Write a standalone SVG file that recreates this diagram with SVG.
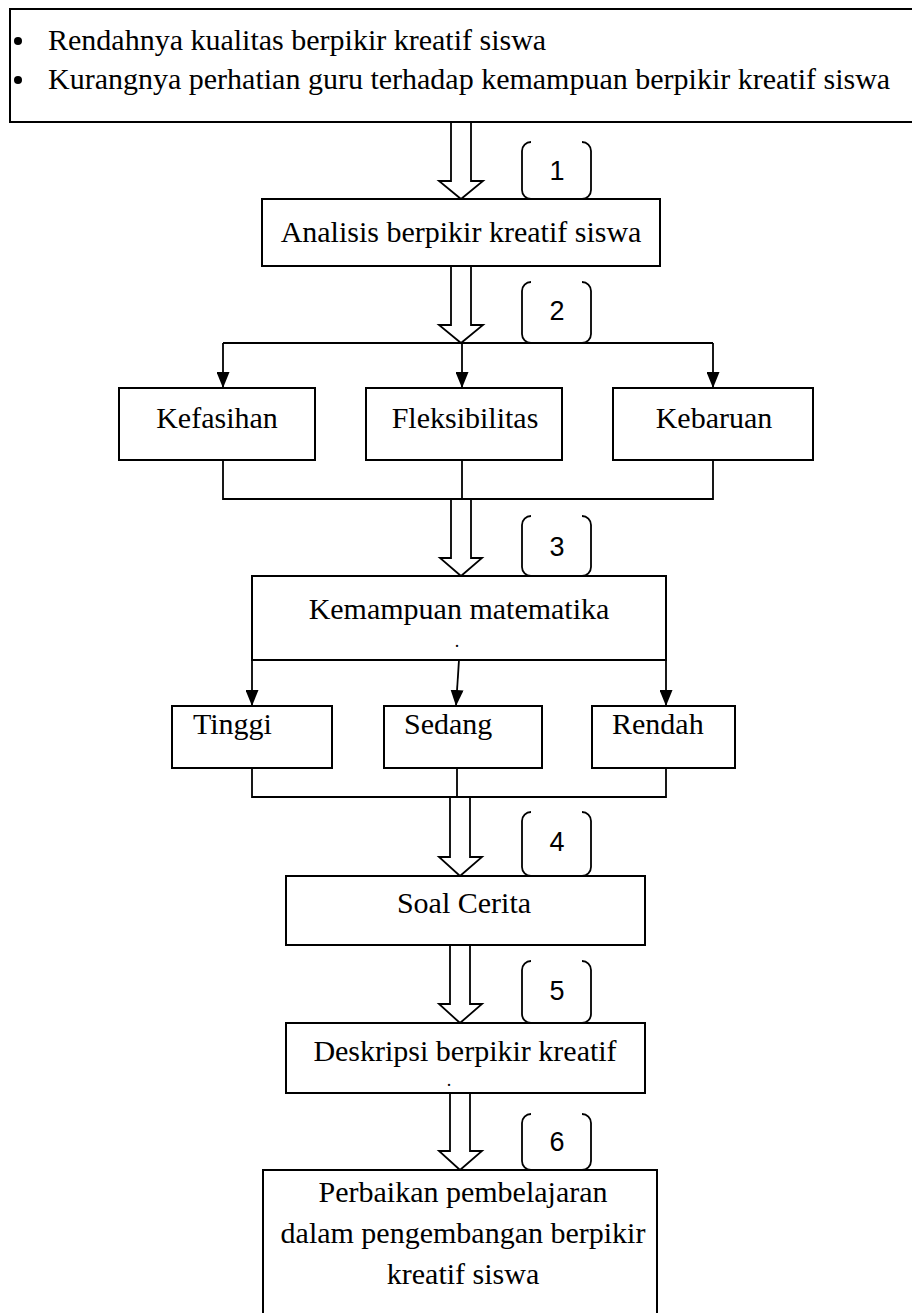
<svg xmlns="http://www.w3.org/2000/svg" width="912" height="1313" viewBox="0 0 912 1313">
<defs>
<marker id="tri" viewBox="0 0 16 13" refX="16" refY="6.5" markerWidth="16" markerHeight="13" markerUnits="userSpaceOnUse" orient="auto">
<path d="M0,0 L16,6.5 L0,13 Z" fill="#000"/>
</marker>
<style>
.box{fill:#fff;stroke:#000;stroke-width:2}
.t{font-family:"Liberation Serif","Times New Roman",serif;font-size:30px;fill:#000}
.d{font-family:"Liberation Serif","Times New Roman",serif;font-size:18px;fill:#000;text-anchor:middle}
.n{font-family:"Liberation Sans",Arial,sans-serif;font-size:27px;fill:#000;text-anchor:middle}
.c{text-anchor:middle}
.blk{fill:#fff;stroke:#000;stroke-width:1.8}
.ln{fill:none;stroke:#000;stroke-width:1.8}
.br{fill:none;stroke:#000;stroke-width:1.8}
</style>
</defs>
<rect width="912" height="1313" fill="#fff"/>

<g id="problems">
<path class="ln" d="M915,9 H10 V122 H915" style="stroke-width:2"/>
<circle cx="18" cy="41" r="4"/>
<circle cx="18" cy="80" r="4"/>
<text class="t" x="48" y="50">Rendahnya kualitas berpikir kreatif siswa</text>
<text class="t" x="48" y="89">Kurangnya perhatian guru terhadap kemampuan berpikir kreatif siswa</text>
</g>

<g id="connectors">
<polygon class="blk" points="451,122 471,122 471,181 483,181 461,199 439,181 451,181"/>
<polygon class="blk" points="451,266 471,266 471,325 483,325 461,343 439,325 451,325"/>
<path class="ln" d="M223,343 H713"/>
<path class="ln" d="M223,343 V388" marker-end="url(#tri)"/>
<path class="ln" d="M462,343 V388" marker-end="url(#tri)"/>
<path class="ln" d="M713,343 V388" marker-end="url(#tri)"/>
<path class="ln" d="M223,460 V499 H713 V460 M462,460 V499"/>
<polygon class="blk" points="451,499 471,499 471,558 482,558 461,576 440,558 451,558"/>
<path class="ln" d="M252,660 V706" marker-end="url(#tri)"/>
<path class="ln" d="M459,660 L456,706" marker-end="url(#tri)"/>
<path class="ln" d="M666,660 V706" marker-end="url(#tri)"/>
<path class="ln" d="M252,768 V797 H666 V768 M457,768 V797"/>
<polygon class="blk" points="450,797 470,797 470,857 482,857 460,876 439,857 450,857"/>
<polygon class="blk" points="450,945 470,945 470,1004 482,1004 460,1023 439,1004 450,1004"/>
<polygon class="blk" points="450,1093 470,1093 470,1151 482,1151 460,1170 439,1151 450,1151"/>
</g>

<g id="badge1">
<path class="br" d="M531,142 A9,9 0 0 0 522,151 V190 A9,9 0 0 0 531,199 M582,142 A9,9 0 0 1 591,151 V190 A9,9 0 0 1 582,199"/>
<text class="n" x="557" y="180">1</text>
</g>
<g id="badge2">
<path class="br" d="M531,282 A9,9 0 0 0 522,291 V334 A9,9 0 0 0 531,343 M582,282 A9,9 0 0 1 591,291 V334 A9,9 0 0 1 582,343"/>
<text class="n" x="557" y="320">2</text>
</g>
<g id="badge3">
<path class="br" d="M531,516 A9,9 0 0 0 522,525 V567 A9,9 0 0 0 531,576 M582,516 A9,9 0 0 1 591,525 V567 A9,9 0 0 1 582,576"/>
<text class="n" x="557" y="556">3</text>
</g>
<g id="badge4">
<path class="br" d="M531,812 A9,9 0 0 0 522,821 V867 A9,9 0 0 0 531,876 M582,812 A9,9 0 0 1 591,821 V867 A9,9 0 0 1 582,876"/>
<text class="n" x="557" y="851">4</text>
</g>
<g id="badge5">
<path class="br" d="M531,961 A9,9 0 0 0 522,970 V1014 A9,9 0 0 0 531,1023 M582,961 A9,9 0 0 1 591,970 V1014 A9,9 0 0 1 582,1023"/>
<text class="n" x="557" y="1000">5</text>
</g>
<g id="badge6">
<path class="br" d="M531,1114 A9,9 0 0 0 522,1123 V1161 A9,9 0 0 0 531,1170 M582,1114 A9,9 0 0 1 591,1123 V1161 A9,9 0 0 1 582,1170"/>
<text class="n" x="557" y="1151">6</text>
</g>

<g id="analisis">
<rect class="box" x="262" y="199" width="398" height="67"/>
<text class="t c" x="461" y="242">Analisis berpikir kreatif siswa</text>
</g>
<g id="kefasihan">
<rect class="box" x="119" y="388" width="196" height="72"/>
<text class="t c" x="217" y="428">Kefasihan</text>
</g>
<g id="fleksibilitas">
<rect class="box" x="366" y="388" width="196" height="72"/>
<text class="t c" x="465" y="428">Fleksibilitas</text>
</g>
<g id="kebaruan">
<rect class="box" x="613" y="388" width="200" height="72"/>
<text class="t c" x="714" y="428">Kebaruan</text>
</g>
<g id="kemampuan">
<rect class="box" x="252" y="576" width="414" height="84"/>
<text class="t c" x="459" y="619">Kemampuan matematika</text>
<text class="d" x="457" y="647">.</text>
</g>
<g id="tinggi">
<rect class="box" x="172" y="706" width="160" height="62"/>
<text class="t" x="193" y="734">Tinggi</text>
</g>
<g id="sedang">
<rect class="box" x="384" y="706" width="158" height="62"/>
<text class="t" x="404" y="734">Sedang</text>
</g>
<g id="rendah">
<rect class="box" x="592" y="706" width="143" height="62"/>
<text class="t" x="612" y="734">Rendah</text>
</g>
<g id="soal">
<rect class="box" x="286" y="876" width="359" height="69"/>
<text class="t c" x="464" y="913">Soal Cerita</text>
</g>
<g id="deskripsi">
<rect class="box" x="286" y="1023" width="359" height="70"/>
<text class="t c" x="465" y="1061">Deskripsi berpikir kreatif</text>
<text class="d" x="449" y="1086">.</text>
</g>
<g id="perbaikan">
<path class="box" d="M263,1320 V1170 H657 V1320"/>
<text class="t c" x="463" y="1202">Perbaikan pembelajaran</text>
<text class="t c" x="463" y="1243">dalam pengembangan berpikir</text>
<text class="t c" x="463" y="1284">kreatif siswa</text>
</g>
</svg>
